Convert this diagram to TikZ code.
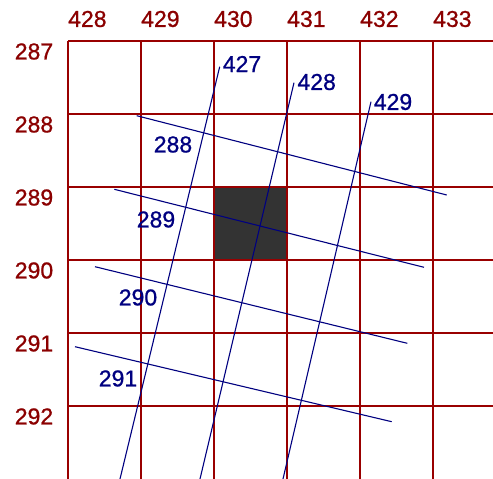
\documentclass[tikz,border=0pt]{standalone}
\usepackage{fontspec}
\setmainfont{Liberation Sans}
\newfontfamily\labfont[FakeBold=0.8]{Liberation Sans}
\definecolor{gridred}{HTML}{990000}
\definecolor{labred}{HTML}{8B0000}
\definecolor{navy}{HTML}{000080}
\definecolor{cellgray}{HTML}{333333}
\begin{document}
\begin{tikzpicture}[x=1pt,y=-1pt,
  gridline/.style={gridred,line width=1.2pt},
  trackline/.style={navy,line width=1.1pt},
  redlab/.style={text=labred,font=\labfont\fontsize{23}{23}\selectfont,inner sep=0pt},
  bluelab/.style={text=navy,font=\labfont\fontsize{23}{23}\selectfont,inner sep=0pt}]
\useasboundingbox (0,0) rectangle (493,479);
\fill[white] (0,0) rectangle (493,479);
% dark cell
\fill[cellgray] (214,187) rectangle (287,260);
% grid
\foreach \x in {68,141,214,287,360,433}
  \draw[gridline] (\x,41) -- (\x,479);
\foreach \y in {41,114,187,260,333,406}
  \draw[gridline] (68,\y) -- (493,\y);
% column labels
\foreach \x/\t in {68/428,141/429,214/430,287/431,360/432,433/433}
  \node[redlab,anchor=west] at (\x,19) {\t};
% row labels
\foreach \y/\t in {41/287,114/288,187/289,260/290,333/291,406/292}
  \node[redlab] at (34,\y+10.5) {\t};
% near-vertical tracks
\draw[trackline] (219.7,66.7) -- (120,479);
\draw[trackline] (294,82.7) -- (200,479);
\draw[trackline] (371,101.7) -- (283,479);
% near-horizontal tracks
\draw[trackline] (136.7,115.7) -- (446.7,195);
\draw[trackline] (114.3,189.3) -- (424,267.3);
\draw[trackline] (95,266.7) -- (407.3,343.3);
\draw[trackline] (75,346.7) -- (391.7,421.7);
% track labels
\node[bluelab] (l427) at (242,64) {427};
\node[bluelab] (l428) at (316.7,82) {428};
\node[bluelab] (l429) at (393,102) {429};
\node[bluelab] (l288) at (173,144.5) {288};
\node[bluelab] (l289) at (156,219.5) {289};
\node[bluelab] (l290) at (138,297.5) {290};
\node[bluelab] (l291) at (118,378.5) {291};
\end{tikzpicture}
\end{document}
